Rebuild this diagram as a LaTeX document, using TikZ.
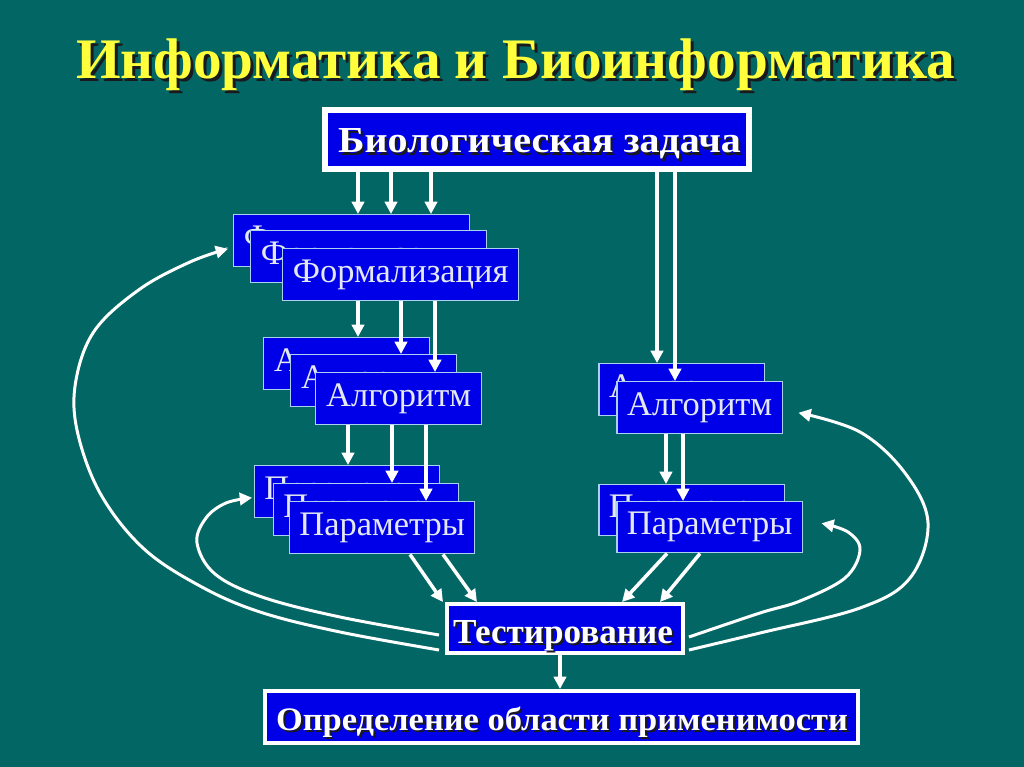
\documentclass[tikz,border=0pt]{standalone}
\usepackage{fontspec}
\setmainfont{Liberation Serif}
\usepackage{graphicx}
\usetikzlibrary{arrows.meta,calc}
\definecolor{bgteal}{RGB}{2,103,100}
\definecolor{boxblue}{RGB}{0,0,232}
\definecolor{stkedge}{RGB}{170,210,240}
\definecolor{stktext}{RGB}{228,232,242}
\definecolor{titleyellow}{RGB}{255,255,60}
\definecolor{shadowc}{RGB}{25,25,30}
\begin{document}
\begin{tikzpicture}[x=0.02cm,y=-0.02cm,
  stk/.style={draw=stkedge, line width=0.85pt, fill=boxblue, text=stktext,
    font=\fontsize{19.6}{22}\selectfont, inner sep=0pt, anchor=north west,
    minimum height=1.04cm},
  bigbox/.style={draw=white, fill=boxblue, inner sep=0pt, anchor=north west},
  shd/.style={text=shadowc, inner sep=0pt, anchor=base},
  lbl/.style={text=white, inner sep=0pt, anchor=base},
  arr/.style={draw=white, line width=2pt, -{Triangle[length=7pt,width=7pt]}},
  carr/.style={draw=white, line width=1.7pt, -{Triangle[length=7pt,width=7pt]}}]
\fill[bgteal] (0,0) rectangle (1024,767);
\useasboundingbox (0,0) rectangle (1024,767);

% title
\node[shd] (titleS) at (518.5,82) {\resizebox{17.58cm}{!}{\bfseries Информатика и Биоинформатика}};
\node[lbl, text=titleyellow] (title) at (515.5,79) {\resizebox{17.58cm}{!}{\bfseries Информатика и Биоинформатика}};

% biological task
\node[bigbox, line width=3.4pt, minimum width=8.48cm, minimum height=1.18cm] (bio) at (322,107) {};
\node[shd] (bioS) at (541.5,155) {\resizebox{8.06cm}{0.48cm}{\bfseries Биологическая задача}};
\node[lbl] (bioT) at (539.5,153) {\resizebox{8.06cm}{0.48cm}{\bfseries Биологическая задача}};

% formalization stack
\node[stk, minimum width=4.72cm] (f1) at (233,214) {Формализация};
\node[stk, minimum width=4.72cm] (f2) at (250,230) {Формализация};
\node[stk, minimum width=4.72cm] (f3) at (282,248) {Формализация};

% algorithm stack (left)
\node[stk, minimum width=3.32cm] (a1) at (263,337) {Алгоритм};
\node[stk, minimum width=3.32cm] (a2) at (290,354) {Алгоритм};
\node[stk, minimum width=3.32cm] (a3) at (315,372) {Алгоритм};

% parameters stack (left)
\node[stk, minimum width=3.7cm] (p1) at (254,465) {Параметры};
\node[stk, minimum width=3.7cm] (p2) at (273,483) {Параметры};
\node[stk, minimum width=3.7cm] (p3) at (289,501) {Параметры};

% right stacks
\node[stk, minimum width=3.32cm] (ra1) at (598,363) {Алгоритм};
\node[stk, minimum width=3.32cm] (ra2) at (616,381) {Алгоритм};
\node[stk, minimum width=3.72cm, minimum height=1.02cm] (rp1) at (598,484) {Параметры};
\node[stk, minimum width=3.72cm, minimum height=1.02cm] (rp2) at (616,501) {Параметры};

% testing
\node[bigbox, line width=2.27pt, minimum width=4.72cm, minimum height=0.98cm] (test) at (445,602) {};
\node[shd] (testS) at (565,645) {\resizebox{4.4cm}{0.46cm}{\bfseries Тестирование}};
\node[lbl] (testT) at (563,643) {\resizebox{4.4cm}{0.46cm}{\bfseries Тестирование}};

% scope of applicability
\node[bigbox, line width=2.27pt, minimum width=11.86cm, minimum height=1.04cm] (app) at (263,689) {};
\node[shd] (appS) at (564,732) {\resizebox{11.44cm}{0.47cm}{\bfseries Определение области применимости}};
\node[lbl] (appT) at (562,730) {\resizebox{11.44cm}{0.47cm}{\bfseries Определение области применимости}};

% straight arrows
\draw[arr] (bio.south -| 358,0) -- (f1.north -| 358,0);
\draw[arr] (bio.south -| 391,0) -- (f1.north -| 391,0);
\draw[arr] (bio.south -| 431,0) -- (f1.north -| 431,0);

\draw[arr] (f3.south -| 358,0) -- (a1.north -| 358,0);
\draw[arr] (f3.south -| 401,0) -- (a2.north -| 401,0);
\draw[arr] (f3.south -| 435,0) -- (a3.north -| 435,0);

\draw[arr] (a3.south -| 348,0) -- (p1.north -| 348,0);
\draw[arr] (a3.south -| 392,0) -- (p2.north -| 392,0);
\draw[arr] (a3.south -| 426,0) -- (p3.north -| 426,0);

\draw[arr] (bio.south -| 657,0) -- (ra1.north -| 657,0);
\draw[arr] (bio.south -| 675,0) -- (ra2.north -| 675,0);
\draw[arr] (ra2.south -| 666,0) -- (rp1.north -| 666,0);
\draw[arr] (ra2.south -| 683,0) -- (rp2.north -| 683,0);

\draw[arr] (p3.south -| 410,0) -- (test.north -| 443,0);
\draw[arr] (p3.south -| 443,0) -- (test.north -| 477,0);
\draw[arr] (rp2.south -| 667,0) -- (test.north -| 622,0);
\draw[arr] (rp2.south -| 700,0) -- (test.north -| 660,0);

\draw[arr] (test.south -| 560,0) -- (app.north -| 560,0);

% feedback curves
\coordinate (lo) at ($(test.west)+(-6,21.5)$);
\coordinate (li) at ($(test.west)+(-6,6.5)$);
\coordinate (ro) at ($(test.east)+(4,21.5)$);
\coordinate (ri) at ($(test.east)+(4,8.5)$);
\coordinate (loT) at ($(f1.west)+(-5,8)$);
\coordinate (liT) at ($(p1.west)+(-2,6)$);
\coordinate (roT) at ($(ra2.east)+(15,5)$);
\coordinate (riT) at ($(rp2.east)+(18,-4)$);

\draw[carr] plot[smooth, tension=0.6] coordinates {(lo) (340,632) (260,612) (200,586) (143,548) (100,493) (77,430) (76,380) (95,330) (140,289) (190,262) (loT)};
\draw[carr] plot[smooth, tension=0.6] coordinates {(li) (340,617) (262,597) (215,574) (197,543) (206,518) (226,503) (liT)};
\draw[carr] plot[smooth, tension=0.6] coordinates {(ro) (760,633) (860,608) (910,578) (928,523) (905,473) (860,432) (roT)};
\draw[carr] plot[smooth, tension=0.6] coordinates {(ri) (760,613) (800,601) (845,578) (860,550) (848,532) (riT)};
\end{tikzpicture}
\end{document}
